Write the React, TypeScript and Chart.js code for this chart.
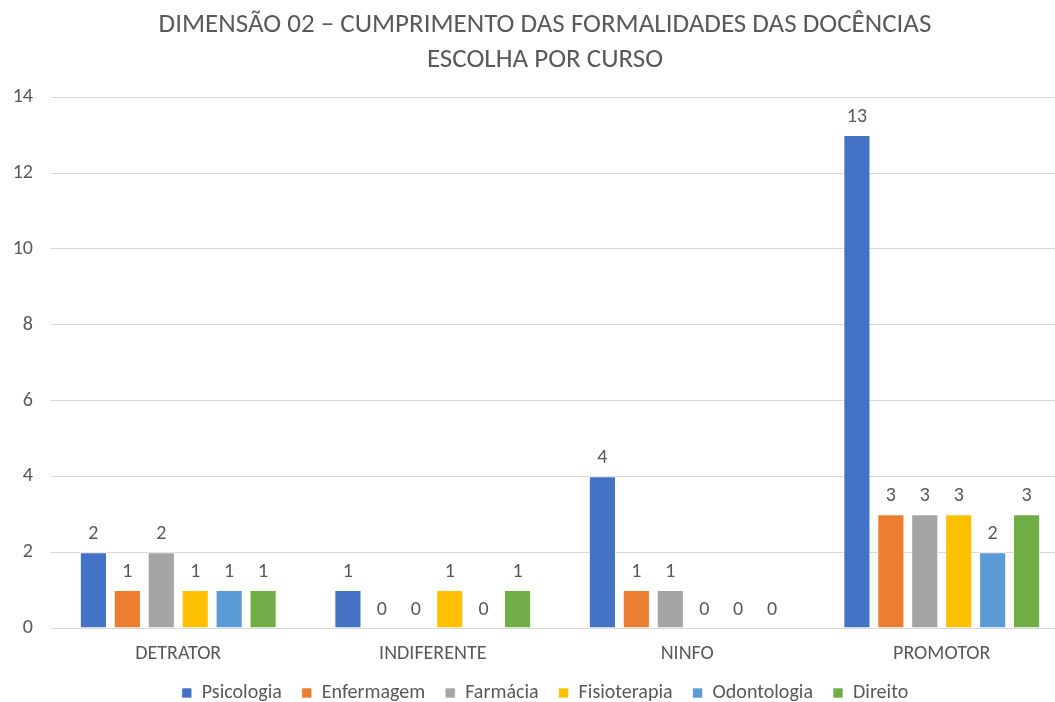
import React, { useEffect, useRef } from "react";
import { Chart, registerables } from "chart.js";

Chart.register(...registerables);

const categories = ["DETRATOR", "INDIFERENTE", "NINFO", "PROMOTOR"];
const seriesNames = ["Psicologia", "Enfermagem", "Farmácia", "Fisioterapia", "Odontologia", "Direito"];
const psicologia = [2, 1, 4, 13];
const enfermagem = [1, 0, 1, 3];
const farmacia = [2, 0, 1, 3];
const fisioterapia = [1, 1, 0, 3];
const odontologia = [1, 0, 0, 2];
const direito = [1, 1, 0, 3];
const seriesColors = ["#4472C4", "#ED7D31", "#A5A5A5", "#FFC000", "#5B9BD5", "#70AD47"];
const titleLines = ["DIMENSÃO 02 – CUMPRIMENTO DAS FORMALIDADES DAS DOCÊNCIAS", "ESCOLHA POR CURSO"];

const FONT = "Calibri, Carlito, 'Liberation Sans Narrow', sans-serif";
const TEXT = "#595959";

const dataLabelPlugin = {
  id: "dataLabels",
  afterDatasetsDraw(chart: any) {
    const ctx = chart.ctx;
    ctx.save();
    ctx.font = `20px ${FONT}`;
    ctx.fillStyle = TEXT;
    ctx.textAlign = "center";
    ctx.textBaseline = "middle";
    chart.data.datasets.forEach((ds: any, i: number) => {
      const meta = chart.getDatasetMeta(i);
      meta.data.forEach((bar: any, j: number) => {
        ctx.fillText(String(ds.data[j]), bar.x, bar.y - 18);
      });
    });
    // category labels
    const xs = chart.scales.x;
    chart.data.labels.forEach((lab: string, i: number) => {
      ctx.fillText(lab, xs.getPixelForValue(i), chart.chartArea.bottom + 26);
    });
    ctx.restore();
  },
};

export default function App() {
  const ref = useRef<HTMLCanvasElement>(null);
  useEffect(() => {
    const all = [psicologia, enfermagem, farmacia, fisioterapia, odontologia, direito];
    const chart = new Chart(ref.current!, {
      type: "bar",
      data: {
        labels: categories,
        datasets: all.map((d, i) => ({
          label: seriesNames[i],
          data: d,
          backgroundColor: seriesColors[i],
          borderColor: "rgba(255,255,255,0.6)",
          borderWidth: 1,
          categoryPercentage: 0.8,
          barPercentage: 0.8,
        })),
      },
      options: {
        animation: false,
        responsive: false,
        maintainAspectRatio: false,
        layout: { padding: { left: 0, right: 0, top: 8, bottom: 0 } },
        plugins: {
          title: {
            display: true,
            text: titleLines,
            color: TEXT,
            font: { family: FONT, size: 27, weight: "normal", lineHeight: 1.3 },
            padding: { top: 0, bottom: 19 },
          },
          legend: {
            position: "bottom",
            labels: {
              color: TEXT,
              font: { family: FONT, size: 20 },
              boxWidth: 10,
              boxHeight: 10,
              padding: 20,
            },
          },
          tooltip: { enabled: false },
        },
        scales: {
          x: {
            grid: { display: false },
            border: { color: "#d9d9d9" },
            ticks: { display: false },
            afterFit: (s: any) => { s.height = 35; },
          },
          y: {
            min: 0,
            max: 14,
            ticks: { stepSize: 2, color: TEXT, font: { family: FONT, size: 20 }, padding: 18 },
            grid: { color: "#d9d9d9", drawTicks: false },
            border: { display: false },
            afterFit: (s: any) => { s.width = 51; },
          },
          yRight: {
            position: "right",
            display: true,
            ticks: { display: false },
            grid: { display: false, drawTicks: false },
            border: { display: false },
            afterFit: (s: any) => { s.width = 21; },
          },
        },
      },
      plugins: [dataLabelPlugin],
    });
    return () => chart.destroy();
  }, []);
  return (
    <div style={{ position: "fixed", left: 0, top: 0, width: 1055, height: 702, overflow: "hidden", background: "#fff" }}>
      <canvas ref={ref} width={1090} height={713} style={{ width: 1090, height: 713, display: "block" }} />
    </div>
  );
}
